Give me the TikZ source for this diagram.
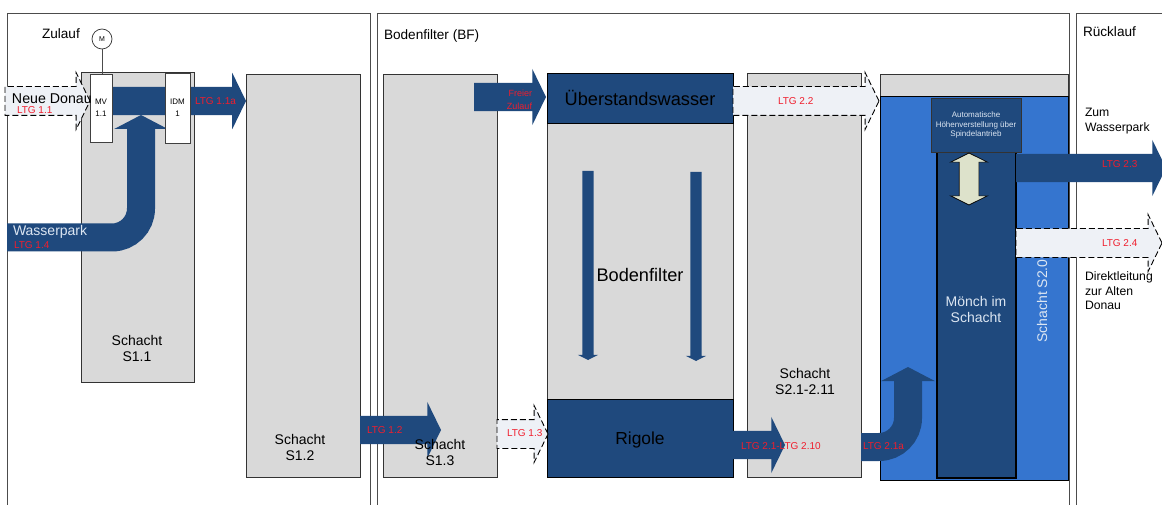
\documentclass[tikz,border=0pt]{standalone}
\usepackage{fontspec}
\setmainfont{Liberation Sans}
\usepackage{xcolor}
\usetikzlibrary{arrows.meta, positioning, shapes.arrows}
\definecolor{flowblue}{RGB}{31,73,125}
\definecolor{pitgray}{RGB}{217,217,217}
\definecolor{waterblue}{RGB}{53,117,207}
\definecolor{dashfill}{RGB}{238,241,246}
\definecolor{spindle}{RGB}{221,226,203}
\definecolor{ltgred}{RGB}{240,30,45}
\definecolor{paleblue}{RGB}{220,230,242}
\newcommand{\ltg}[1]{\textcolor{ltgred}{#1}}

\begin{document}
\begin{tikzpicture}[
    x=1pt, y=-1pt,
    every node/.style={align=center, outer sep=0pt, font=\fontsize{14}{16}\selectfont},
    frameline/.style={draw=black!70, line width=0.9pt},
    pit/.style={draw=black!80, fill=pitgray, line width=0.8pt, anchor=north west, inner sep=0pt},
    water/.style={draw=black, fill=flowblue, line width=0.9pt, anchor=north west, inner sep=0pt, minimum width=186pt},
    valve/.style={draw=black!75, fill=white, line width=0.8pt, anchor=north west, inner sep=0pt, font=\fontsize{8}{12}\selectfont},
    flow/.style={single arrow, anchor=tail, fill=flowblue, inner sep=14pt, single arrow head extend=14pt, single arrow tip angle=128},
    dashflow/.style={flow, fill=dashfill, draw=black, line width=0.9pt, dash pattern=on 6pt off 3pt},
    bentflow/.style={draw=flowblue, line width=28pt, rounded corners=29pt, -{Triangle[length=14pt, width=53pt]}},
    downflow/.style={single arrow, anchor=tail, fill=flowblue, shape border rotate=270, inner sep=5.5pt, single arrow head extend=4.5pt, single arrow tip angle=126},
    ltglabel/.style={font=\fontsize{10}{12}\selectfont, inner sep=0pt},
    sidetext/.style={font=\fontsize{12.2}{14.5}\selectfont, align=left, anchor=west, inner sep=0pt},
    headtext/.style={font=\fontsize{13.6}{16}\selectfont, anchor=west, inner sep=0pt},
]
\useasboundingbox (0,0) rectangle (1162,505);

% frames
\draw[frameline] (7,505) -- (7,13) -- (370,13) -- (370,505);
\draw[frameline] (377,505) -- (377,13) -- (1069,13) -- (1069,505);
\draw[frameline] (1163,13) -- (1076,13) -- (1076,505);
\node[headtext] (zulauf) at (42,34) {Zulauf};
\node[headtext] (bf) at (384,36) {Bodenfilter (BF)};
\node[headtext] (ruecklauf) at (1083,32) {Rücklauf};

% pits
\node[pit, minimum width=113pt, minimum height=310pt] (s11) at (81,72) {};
\node[pit, minimum width=114pt, minimum height=403pt] (s12) at (246,74) {};
\node[pit, minimum width=114pt, minimum height=403pt] (s13) at (383,74) {};
\node[pit, minimum width=186pt, minimum height=403pt] (filter) at (547,74) {};
\node[pit, minimum width=114pt, minimum height=404pt] (s21) at (747,73) {};
\node[pit, minimum width=188pt, minimum height=22pt] (s20top) at (880,74) {};
\node[pit, draw=black, fill=waterblue, minimum width=188pt, minimum height=384pt] (s20) at (880,96) {};

\node[water, minimum height=50pt, text=black, font=\fontsize{18.2}{20}\selectfont] (ueber) at (547,73) {Überstandswasser};
\node[water, minimum height=78pt, text=black, text depth=0pt, font=\fontsize{17.4}{20}\selectfont] (rigole) at (547,399) {Rigole};
\node[font=\fontsize{18.2}{20}\selectfont] (bftext) at (640,275) {Bodenfilter};

\node[downflow, minimum height=189pt] (down1) at (588,171) {};
\node[downflow, minimum height=189pt] (down2) at (696,172) {};

\node (s11text) at (137,348) {Schacht\\S1.1};
\node (s12text) at (300,447) {Schacht\\S1.2};
\node (s21text) at (805,381) {Schacht\\S2.1-2.11};

% Moench
\node[draw=black, fill=flowblue, line width=1.4pt, anchor=north west, inner sep=0pt, minimum width=79pt, minimum height=327pt] (moench) at (937,151) {};
\node[text=paleblue] (moenchtext) at (976,309) {Mönch im\\Schacht};
\node[draw=black!80, fill=flowblue, line width=0.8pt, anchor=north west, inner sep=0pt, minimum width=90pt, minimum height=54pt,
      text=paleblue, font=\fontsize{8}{9.5}\selectfont] (auto) at (931,98) {Automatische\\Höhenverstellung über\\Spindelantrieb};
\node[double arrow, draw=black, fill=spindle, line width=0.7pt, shape border rotate=90, inner sep=9.5pt,
      double arrow head extend=8.5pt, double arrow tip angle=127, minimum height=52pt] (spindle) at (969,179) {};
\node[rotate=90, text=paleblue] (s20text) at (1042,301) {Schacht S2.0};

% Zulauf side
\node[flow, minimum height=156pt] (ltg11a) at (90,101) {};
\draw[bentflow] (7,237.5) -| (141,115) coordinate (wpend);
\node[valve, minimum width=22pt, minimum height=68pt] (mv) at (90,74) {MV\\1.1};
\node[valve, minimum width=25pt, minimum height=70pt] (idm) at (165,73) {IDM\\1};
\node[dashflow, minimum height=85pt] (ltg11) at (5,101) {};
\node[draw=black!80, circle, line width=0.7pt, minimum size=20pt, inner sep=0pt, font=\fontsize{7}{8}\selectfont] (motor) at (102,39) {M};
\draw[black!70, line width=0.9pt] (motor) -- (motor |- mv.north);
\node[anchor=west, inner sep=0pt, font=\fontsize{14.2}{16}\selectfont] (donautext) at (12,99) {Neue Donau};
\node[ltglabel, anchor=west] (ltg11text) at (17,110.5) {\ltg{LTG 1.1}};
\node[ltglabel, anchor=west] (ltg11atext) at (195,101.5) {\ltg{LTG 1.1a}};
\node[anchor=west, inner sep=0pt, text=paleblue] (wptext) at (13,231.5) {Wasserpark};
\node[ltglabel, anchor=west] (ltg14text) at (14,245.5) {\ltg{LTG 1.4}};

% S1.2 to filter
\node[flow, minimum height=81pt] (ltg12) at (360,430) {};
\node[ltglabel, anchor=west] (ltg12text) at (367,430.5) {\ltg{LTG 1.2}};
\node (s13text) at (440,452) {Schacht\\S1.3};
\node[dashflow, minimum height=51pt] (ltg13) at (497,434) {};
\node[ltglabel, anchor=west] (ltg13text) at (507,433.5) {\ltg{LTG 1.3}};
\node[flow, minimum height=72pt] (freier) at (474,97) {};
\node[ltglabel, font=\fontsize{9}{13}\selectfont, align=right, anchor=east] (freiertext) at (532,100) {\ltg{Freier}\\\ltg{Zulauf}};

% filter to Moench
\node[dashflow, minimum height=146pt] (ltg22) at (733,101) {};
\node[ltglabel, anchor=west] (ltg22text) at (778,101.5) {\ltg{LTG 2.2}};
\node[flow, minimum height=52pt] (ltg21) at (733,445) {};
\node[ltglabel, anchor=west] (ltg21text) at (741,446.5) {\ltg{LTG 2.1-LTG 2.10}};
\draw[bentflow] (861,447) -| (908,367) coordinate (bentend);
\node[ltglabel, anchor=west] (ltg21atext) at (863,446.5) {\ltg{LTG 2.1a}};

% Ruecklauf side
\node[flow, minimum height=150pt] (ltg23) at (1016,168) {};
\node[ltglabel, anchor=west] (ltg23text) at (1102,164.5) {\ltg{LTG 2.3}};
\node[dashflow, minimum height=146pt] (ltg24) at (1016,243) {};
\node[ltglabel, anchor=west] (ltg24text) at (1102,243.5) {\ltg{LTG 2.4}};
\node[sidetext, font=\fontsize{12.2}{15}\selectfont] (parktext) at (1085,121) {Zum\\Wasserpark};
\node[sidetext] (direkttext) at (1085,291) {Direktleitung\\zur Alten\\Donau};
\end{tikzpicture}
\end{document}
